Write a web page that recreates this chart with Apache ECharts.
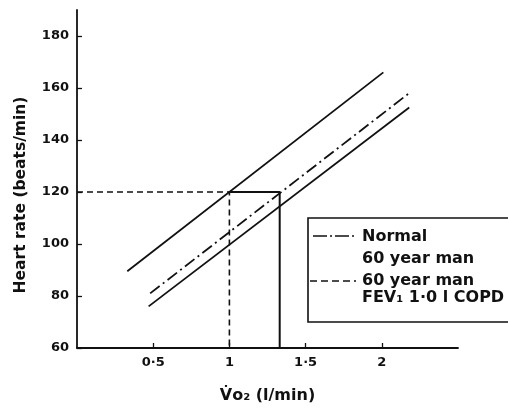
<!DOCTYPE html>
<html>
<head>
<meta charset="utf-8">
<script src="https://cdn.jsdelivr.net/npm/echarts@6/dist/echarts.min.js"></script>
<style>
  html, body { margin: 0; padding: 0; background: #fff; }
  #chart { width: 508px; height: 410px; }
</style>
</head>
<body>
<div id="chart"></div>
<script>
// VO2 (l/min) vs heart rate (beats/min), two end points per line
const upperLine = [[0.33, 89.5], [2.01, 166]];
const normalLine = [[0.48, 81], [2.19, 158.5]];
const lowerLine = [[0.47, 76], [2.18, 152.5]];
// guide lines at heart rate 120
const dashedGuide = [[0, 120], [1, 120], [1, 60]];
const solidGuide = [[1, 120], [1.33, 120], [1.33, 60]];

const xTicks = [0.5, 1, 1.5, 2];
const yTicks = [60, 80, 100, 120, 140, 160, 180];

const legendRows = ['Normal', '60 year man', '60 year man', 'FEV₁ 1·0 l COPD'];

const FONT = 'DejaVu Sans';
const INK = '#111';

const chart = echarts.init(document.getElementById('chart'));

function lineSeries(data, type, width) {
  return {
    type: 'line',
    data: data,
    showSymbol: false,
    silent: true,
    animation: false,
    lineStyle: { color: INK, width: width || 1.8, type: type || 'solid' }
  };
}

chart.setOption({
  backgroundColor: '#fff',
  animation: false,
  grid: { left: 77, right: 50, top: 10, bottom: 62 },
  xAxis: {
    type: 'value',
    min: 0,
    max: 2.5,
    name: 'V̇o₂ (l/min)',
    nameLocation: 'middle',
    nameGap: 40,
    nameTextStyle: { fontFamily: FONT, fontSize: 16, fontWeight: 'bold', color: INK },
    axisLine: { lineStyle: { color: INK, width: 1.8 } },
    axisTick: { inside: true, length: 5, customValues: xTicks, lineStyle: { color: INK, width: 1.3 } },
    axisLabel: {
      customValues: xTicks,
      margin: 8,
      fontFamily: FONT,
      fontSize: 13,
      fontWeight: 'bold',
      color: INK,
      formatter: v => String(v).replace('.', '·')
    },
    splitLine: { show: false }
  },
  yAxis: {
    type: 'value',
    min: 60,
    max: 190,
    name: 'Heart rate (beats/min)',
    nameLocation: 'middle',
    nameGap: 48,
    // push the title a bit lower than the axis centre, like the original
    nameTextStyle: { fontFamily: FONT, fontSize: 15.5, fontWeight: 'bold', color: INK, padding: [0, 32, 0, 0] },
    axisLine: { show: true, lineStyle: { color: INK, width: 1.8 } },
    axisTick: { show: true, inside: true, length: 5, customValues: yTicks, lineStyle: { color: INK, width: 1.3 } },
    axisLabel: { customValues: yTicks, margin: 8, fontFamily: FONT, fontSize: 13, fontWeight: 'bold', color: INK },
    splitLine: { show: false }
  },
  series: [
    lineSeries(upperLine),
    lineSeries(normalLine, [12, 4, 2, 4]),
    lineSeries(lowerLine),
    lineSeries(dashedGuide, [6, 4], 1.6),
    lineSeries(solidGuide, 'solid', 2)
  ],
  // legend box drawn by hand, the dash samples can't be done with the built in legend
  graphic: [
    {
      type: 'rect',
      shape: { x: 308, y: 218, width: 210, height: 104 },
      style: { fill: '#fff', stroke: INK, lineWidth: 1.6 },
      z: 10
    },
    {
      type: 'line',
      shape: { x1: 313, y1: 236, x2: 356, y2: 236 },
      style: { stroke: INK, lineWidth: 1.6, lineDash: [14, 3, 2, 3] },
      z: 11
    },
    {
      type: 'line',
      shape: { x1: 310, y1: 281, x2: 356, y2: 281 },
      style: { stroke: INK, lineWidth: 1.6, lineDash: [7, 4] },
      z: 11
    }
  ].concat(legendRows.map((t, i) => ({
    type: 'text',
    x: 362,
    y: [237, 259, 281, 298][i],
    style: {
      text: t,
      fontFamily: FONT,
      fontSize: 16,
      fontWeight: 'bold',
      fill: INK,
      verticalAlign: 'middle'
    },
    z: 11
  })))
});
</script>
</body>
</html>
